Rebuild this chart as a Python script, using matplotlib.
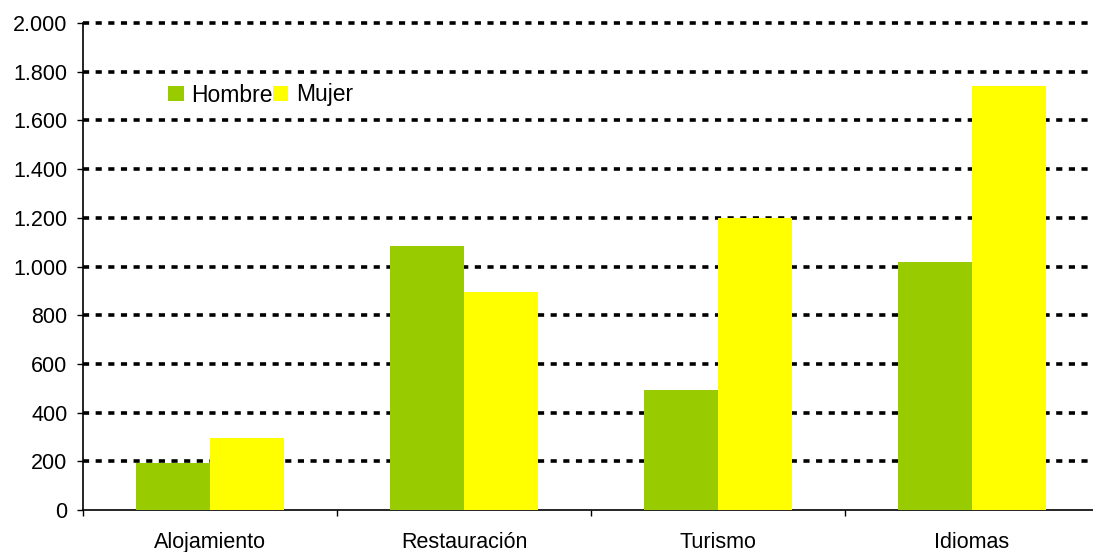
import numpy as np
import matplotlib.pyplot as plt
from matplotlib.ticker import FuncFormatter

plt.rcParams['font.family'] = ['Liberation Sans', 'DejaVu Sans']
plt.rcParams['font.size'] = 15.5

# Data
categories = ['Alojamiento', 'Restauración', 'Turismo', 'Idiomas']
hombre = [192, 1085, 493, 1019]
mujer = [297, 896, 1199, 1740]
series_names = ['Hombre', 'Mujer']
colors = ['#99cc00', '#ffff00']

fig = plt.figure(figsize=(10.93, 5.52), dpi=100)
ax = fig.add_axes([0.0759, 0.0761, 0.9296, 0.8822])

x = np.arange(len(categories))
width = 0.29
ax.bar(x - width / 2, hombre, width, color=colors[0], label=series_names[0], zorder=3)
ax.bar(x + width / 2, mujer, width, color=colors[1], label=series_names[1], zorder=3)

ax.set_xlim(-0.5, len(categories) - 0.5)
ax.set_ylim(0, 2000)
ax.set_yticks(np.arange(0, 2001, 200))
ax.yaxis.set_major_formatter(FuncFormatter(lambda v, p: f'{int(v):,}'.replace(',', '.')))

# dashed gridlines
for yv in np.arange(200, 2001, 200):
    ax.axhline(yv, color='black', lw=2.6, linestyle=(0, (1.7, 1.8)), zorder=1, clip_on=False)

# x ticks at group boundaries, labels at centers
ax.set_xticks(np.arange(-0.5, len(categories)), minor=False)
ax.set_xticklabels([])
ax.set_xticks(x, minor=True)
ax.set_xticklabels(categories, minor=True)
ax.tick_params(axis='x', which='major', direction='out', length=4.3, width=1)
ax.tick_params(axis='x', which='minor', length=0, pad=16, labelsize=15.5)
ax.tick_params(axis='y', direction='out', length=4.3, width=1, labelsize=15.5, pad=7)

for s in ['top', 'right']:
    ax.spines[s].set_visible(False)
ax.spines['left'].set_linewidth(1.2)
ax.spines['bottom'].set_linewidth(1.2)

fig.legend(*ax.get_legend_handles_labels(), loc='center left',
           bbox_to_anchor=(168 / 1093, 1 - 95 / 552), ncol=2, frameon=False,
           handlelength=0.68, handleheight=0.68, handletextpad=0.33, columnspacing=0.0,
           fontsize=16.5, borderaxespad=0, borderpad=0)

plt.savefig('out.png', dpi=100)
